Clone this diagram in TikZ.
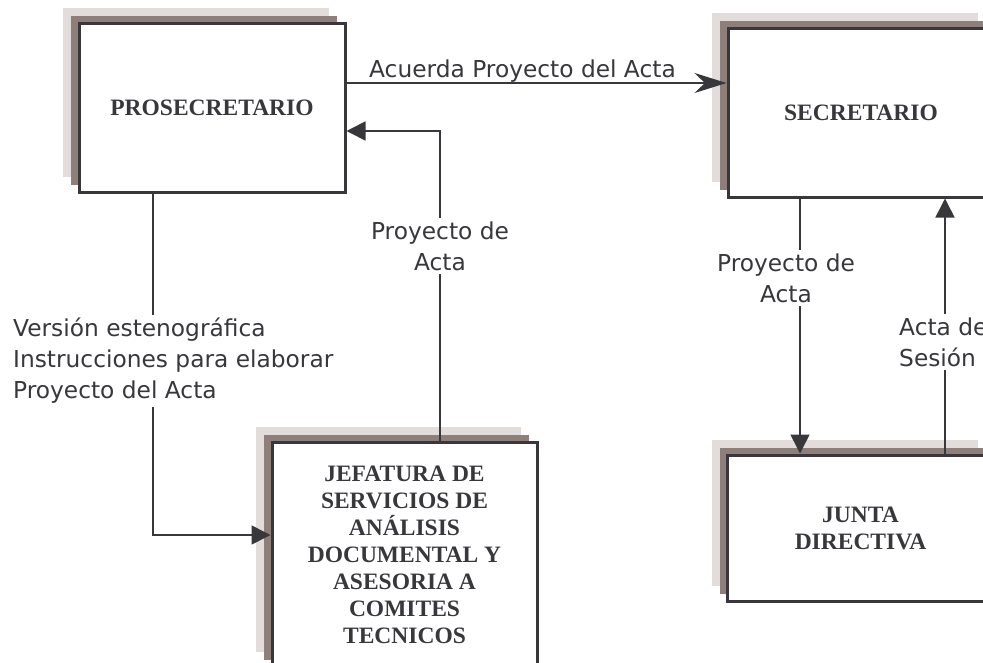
\documentclass[tikz,border=0pt]{standalone}
\usepackage{fontspec}
\setmainfont{Liberation Serif}
\newfontfamily\lblfont{DejaVu Sans}
\usetikzlibrary{arrows.meta,shadows}
\definecolor{ink}{HTML}{38383C}
\definecolor{shdark}{HTML}{8E7F7A}
\definecolor{shlight}{HTML}{E2DDDA}
\tikzset{
  orgbox/.style={draw=ink, line width=3pt, fill=white, minimum width=266pt,
    minimum height=169pt, inner sep=0pt, text=ink, align=center,
    font=\bfseries\fontsize{23.5}{27}\selectfont,
    general shadow={shadow xshift=-16pt, shadow yshift=15pt, fill=shlight, draw=none},
    general shadow={shadow xshift=-8pt, shadow yshift=7pt, fill=shdark, draw=none}},
  conn/.style={draw=ink, line width=1.6pt},
  tri/.style={-{Triangle[length=19pt,width=19pt]}},
  lbl/.style={text=ink, font=\lblfont\fontsize{23.3}{31}\selectfont, inner xsep=1pt, inner ysep=3pt}
}
\begin{document}
\begin{tikzpicture}[x=1pt,y=-1pt]
\useasboundingbox (0,0) rectangle (983,662);
\clip (0,0) rectangle (983,662);
\fill[white] (0,0) rectangle (983,662);
% boxes
\node[orgbox] (prosec) at (212,107.5) {PROSECRETARIO};
\node[orgbox] (sec) at (861,112.5) {SECRETARIO};
\node[orgbox, minimum width=265pt, minimum height=225pt] (jef) at (404.5,554.5)
  {JEFATURA DE\\SERVICIOS DE\\ANÁLISIS\\DOCUMENTAL Y\\ASESORIA A\\COMITES\\TECNICOS};
\node[orgbox, minimum height=146pt] (junta) at (860.5,528) {JUNTA\\DIRECTIVA};
% connectors
\coordinate (a1) at ([yshift=24.5pt]prosec.east);
\draw[conn, -{Stealth[length=32pt,width=20pt]}] (a1) -- (sec.west |- a1);
\draw[conn, tri] ([xshift=35.5pt]jef.north) |- ([yshift=-23.5pt]prosec.east);
\draw[conn, tri] ([xshift=-59pt]prosec.south) |- ([yshift=19.5pt]jef.west);
\coordinate (d1) at ([xshift=-61pt]sec.south);
\draw[conn, tri] (d1) -- (d1 |- junta.north);
\coordinate (u1) at ([xshift=84.5pt]junta.north);
\draw[conn, tri] (u1) -- (u1 |- sec.south);
% labels
\node[lbl, anchor=base west] (lacuerda) at (368,77) {Acuerda Proyecto del Acta};
\node[lbl, fill=white, align=center] (lproy1) at (440,246) {Proyecto de\\Acta};
\node[lbl, fill=white, align=left, anchor=west] (lver) at (12,361)
  {Versión estenográfica\\Instrucciones para elaborar\\Proyecto del Acta};
\node[lbl, fill=white, align=center] (lproy2) at (786,278) {Proyecto de\\Acta};
\node[lbl, fill=white, align=left, anchor=west] (lacta) at (898,342) {Acta de\\Sesión};
\end{tikzpicture}
\end{document}
